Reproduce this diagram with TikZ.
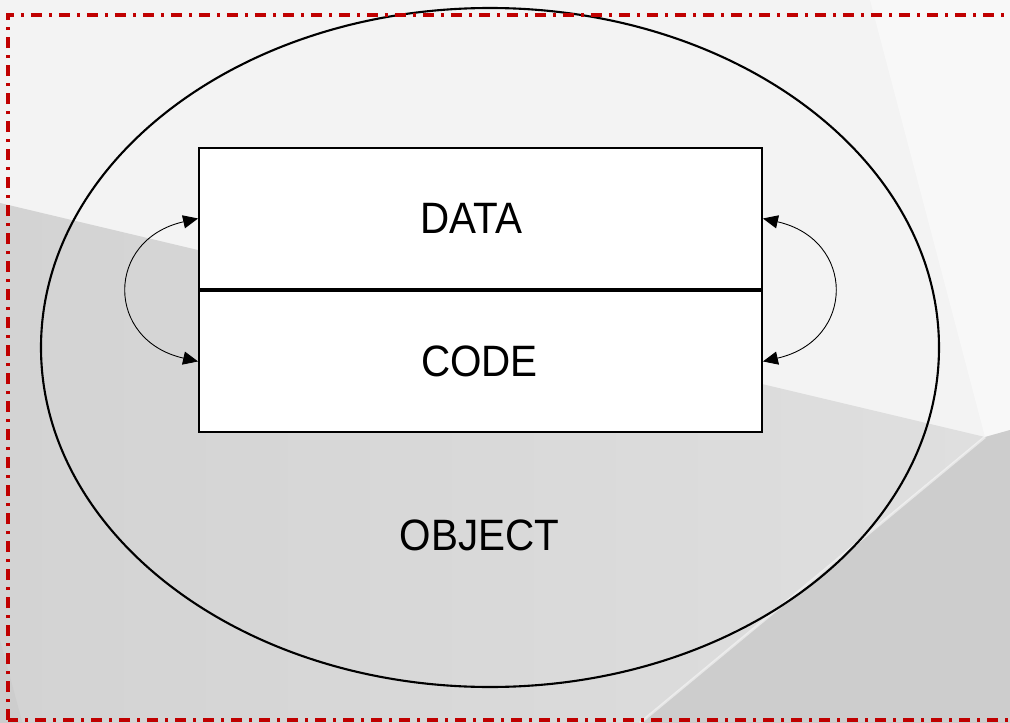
\documentclass[tikz,border=0pt]{standalone}
\usepackage{fontspec}
\setmainfont{Liberation Sans}[FakeStretch=0.92]
\usetikzlibrary{shapes.geometric, arrows.meta, positioning}
\definecolor{bordred}{HTML}{C00000}
\definecolor{bglight}{HTML}{F3F3F3}
\definecolor{bgwhite}{HTML}{F8F8F8}
\definecolor{bgdark}{HTML}{D3D3D3}
\definecolor{bgmid}{HTML}{DFDFDF}
\definecolor{bgshade}{HTML}{CDCDCD}
\tikzstyle{objshape} = [
    ellipse,
    minimum width=17.96cm,
    minimum height=13.58cm,
    line width=1.2pt,
    draw=black
]
\tikzstyle{part} = [
    rectangle,
    minimum width=11.26cm,
    minimum height=2.82cm,
    inner sep=0pt,
    line width=1.1pt,
    fill=white,
    draw=black
]
\tikzstyle{lbl} = [
    inner sep=0pt,
    font=\fontsize{25}{30}\selectfont
]
\tikzstyle{arrow} = [line width=0.5pt, {Triangle[length=8.5pt,width=7.5pt]}-{Triangle[length=8.5pt,width=7.5pt]}]
\tikzstyle{frame} = [
    draw=bordred,
    line width=2.4pt,
    dash pattern=on 0.22cm off 0.14cm on 0.06cm off 0.14cm
]

\begin{document}
\begin{tikzpicture}

\useasboundingbox (0,0) rectangle (20.2,-14.46);
\clip (0,0) rectangle (20.2,-14.46);

% background facets
\fill[bglight] (0,0) rectangle (20.2,-14.46);
\fill[bgwhite] (17.4,0) -- (20.2,0) -- (20.2,-8.6) -- (19.7,-8.74) -- cycle;
\shade[left color=bgdark, right color=bgmid] (0,-4.06) -- (19.7,-8.74) -- (12.8,-14.46) -- (0,-14.46) -- cycle;
\fill[bgshade] (19.7,-8.74) -- (20.2,-8.6) -- (20.2,-14.46) -- (12.8,-14.46) -- cycle;
\draw[white, line width=1.5pt, opacity=0.5] (19.7,-8.74) -- (12.8,-14.46);
\fill[bgshade] (0,-12.8) -- (0.45,-14.46) -- (0,-14.46) -- cycle;

\node (obj) [objshape] at (9.8,-6.95) {};

\node (data) [part] at (9.61,-4.37) {};
\node (code) [part, below=0pt of data] {};

\node (datatxt) [lbl, xshift=-0.18cm] at (data) {DATA};
\node (codetxt) [lbl, xshift=-0.02cm] at (code) {CODE};
\node (objtxt) [lbl] at (9.59,-10.7) {OBJECT};

\draw [arrow] (data.west) .. controls +(-1.86,-0.42) and +(-1.86,0.42) .. (code.west);
\draw [arrow] (data.east) .. controls +(1.86,-0.42) and +(1.86,0.42) .. (code.east);

\draw [frame] (0.16,-14.4) -- (0.16,-0.3) -- (20.6,-0.3) -- (20.6,-14.4) -- cycle;

\end{tikzpicture}
\end{document}
